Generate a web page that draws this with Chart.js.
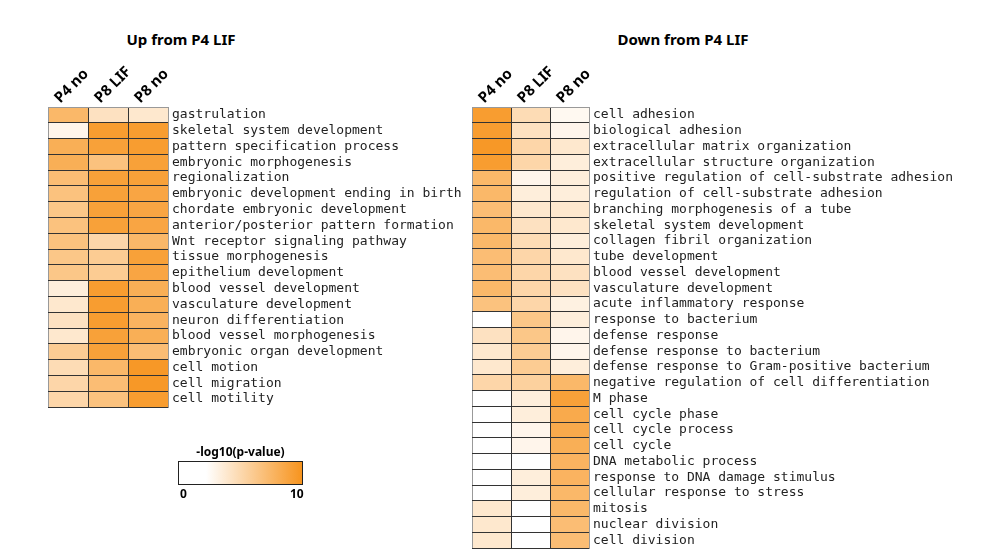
<!DOCTYPE html>
<html>
<head>
<meta charset="utf-8">
<script src="https://cdn.jsdelivr.net/npm/chart.js@4"></script>
<style>
  body { margin: 0; background: #fff; width: 1003px; height: 556px; position: relative; overflow: hidden; }
  canvas { position: absolute; top: 0; }
  .titulo { position: absolute; font: bold 15px "Noto Sans", sans-serif; color: #000; text-align: center; }
  #barra { position: absolute; left: 178px; top: 461px; width: 123px; height: 22px; border: 1px solid #222;
           background: linear-gradient(to right, #fff 0%, #fff 22%, #f7941e 100%); }
  .leyenda { position: absolute; font: bold 12px "Noto Sans", sans-serif; color: #000; }
</style>
</head>
<body>
<div class="titulo" style="left:100px; top:29px; width:162px;">Up from P4 LIF</div>
<div class="titulo" style="left:583px; top:29px; width:200px;">Down from P4 LIF</div>
<canvas id="grafico-subida" width="470" height="556" style="left:0"></canvas>
<canvas id="grafico-bajada" width="563" height="560" style="left:440px"></canvas>
<div class="leyenda" style="left:178px; top:443px; width:125px; text-align:center;">-log10(p-value)</div>
<div id="barra"></div>
<div class="leyenda" style="left:180px; top:485px;">0</div>
<div class="leyenda" style="left:290px; top:485px;">10</div>
<script>
// Columnas de las muestras
const columnas = ["P4 no", "P8 LIF", "P8 no"];

// Términos GO que suben respecto a P4 LIF
const terminosSubida = [
    "gastrulation", "skeletal system development", "pattern specification process",
    "embryonic morphogenesis", "regionalization", "embryonic development ending in birth",
    "chordate embryonic development", "anterior/posterior pattern formation",
    "Wnt receptor signaling pathway", "tissue morphogenesis", "epithelium development",
    "blood vessel development", "vasculature development", "neuron differentiation",
    "blood vessel morphogenesis", "embryonic organ development", "cell motion",
    "cell migration", "cell motility"
];
// -log10(p-value) por columna
const subidaP4no  = [6, 0.5, 7, 7, 5.5, 5, 4.5, 5, 5, 4.5, 4.5, 1, 1.5, 2, 1.5, 4, 2.5, 3, 3];
const subidaP8LIF = [2, 9, 8.5, 5, 8.5, 8.5, 8.5, 8.5, 3, 4, 4, 9, 9, 9, 8.5, 8.5, 6, 5.5, 5];
const subidaP8no  = [1.5, 9, 9, 8.5, 8.5, 8, 8, 8, 6, 8.5, 8, 7, 7, 6.5, 7, 5.5, 9.5, 9.5, 9];

// Términos GO que bajan respecto a P4 LIF
const terminosBajada = [
    "cell adhesion", "biological adhesion", "extracellular matrix organization",
    "extracellular structure organization", "positive regulation of cell-substrate adhesion",
    "regulation of cell-substrate adhesion", "branching morphogenesis of a tube",
    "skeletal system development", "collagen fibril organization", "tube development",
    "blood vessel development", "vasculature development", "acute inflammatory response",
    "response to bacterium", "defense response", "defense response to bacterium",
    "defense response to Gram-positive bacterium", "negative regulation of cell differentiation",
    "M phase", "cell cycle phase", "cell cycle process", "cell cycle", "DNA metabolic process",
    "response to DNA damage stimulus", "cellular response to stress", "mitosis",
    "nuclear division", "cell division"
];
const bajadaP4no  = [9, 9, 9.5, 9, 6, 6, 5.5, 6, 6, 5.5, 5.5, 6, 5, 0, 2, 1.5, 1.5, 3, 0, 0, 0, 0, 0, 0, 0, 1.5, 1.5, 1.5];
const bajadaP8LIF = [2.5, 2, 3, 3, 0.5, 1, 1.5, 2, 2.5, 3, 3, 3, 3, 4.5, 4.5, 4, 4, 3.5, 1, 1, 0.5, 0.5, 0, 1, 1, 0, 0, 0];
const bajadaP8no  = [0.3, 0.5, 1.5, 1, 1, 1, 1.5, 1.5, 1, 1.5, 2, 2, 0.8, 1, 0.5, 0.5, 1, 6, 8.5, 7.5, 7.5, 7, 6.5, 6.5, 6, 6, 5.5, 5.5];

// Escala de color: blanco (0) a naranja (10), tonos melocotón en valores bajos
function colorValor(v) {
    const t = Math.max(0, Math.min(1, v / 10));
    const k = Math.pow(t, 0.8);
    const r = Math.round(255 - 8 * t);
    const g = Math.round(255 - 107 * k);
    const b = Math.round(255 - 225 * k);
    return `rgb(${r},${g},${b})`;
}

// Crea un mapa de calor con barras horizontales apiladas
function crearMapa(id, terminos, valores, ancho, izq, der, abajo) {
    const ctx = document.getElementById(id).getContext("2d");
    return new Chart(ctx, {
        type: "bar",
        data: {
            labels: terminos,
            datasets: valores.map((serie, i) => ({
                label: columnas[i],
                data: serie.map(() => 1),
                backgroundColor: c => colorValor(serie[c.dataIndex]),
                borderWidth: 0,
                barPercentage: 1,
                categoryPercentage: 1
            }))
        },
        options: {
            indexAxis: "y",
            responsive: false,
            animation: false,
            devicePixelRatio: 1,
            layout: { padding: { left: izq, top: 0, right: 0, bottom: abajo } },
            plugins: { legend: { display: false }, tooltip: { enabled: false } },
            scales: {
                x: {
                    type: "linear",
                    position: "top",
                    stacked: true,
                    min: 0,
                    max: 3,
                    afterFit: s => { s.height = 107; },
                    grid: {
                        z: 1,
                        color: c => (c.index === 0 || c.index === 3) ? "#999" : "#333",
                        drawTicks: false
                    },
                    border: { color: "#999", z: 1 },
                    ticks: {
                        stepSize: 1,
                        minRotation: 45,
                        maxRotation: 45,
                        labelOffset: 22,
                        padding: 0,
                        color: "#000",
                        font: { family: "Noto Sans", size: 15, weight: "bold" },
                        callback: v => columnas[v] || ""
                    }
                },
                y: {
                    position: "right",
                    stacked: true,
                    afterFit: s => { s.width = ancho - der; },
                    grid: {
                        z: 1,
                        offset: true,
                        color: c => (c.index === 0 || c.index === terminos.length) ? "#999" : "#333",
                        drawTicks: false
                    },
                    border: { color: "#999", z: 1 },
                    ticks: {
                        autoSkip: false,
                        padding: 4,
                        color: "#222",
                        font: { family: "DejaVu Sans Mono", size: 13 }
                    }
                }
            }
        }
    });
}

crearMapa("grafico-subida", terminosSubida, [subidaP4no, subidaP8LIF, subidaP8no], 470, 48, 168, 149);
crearMapa("grafico-bajada", terminosBajada, [bajadaP4no, bajadaP8LIF, bajadaP8no], 563, 32, 149, 0);
</script>
</body>
</html>
